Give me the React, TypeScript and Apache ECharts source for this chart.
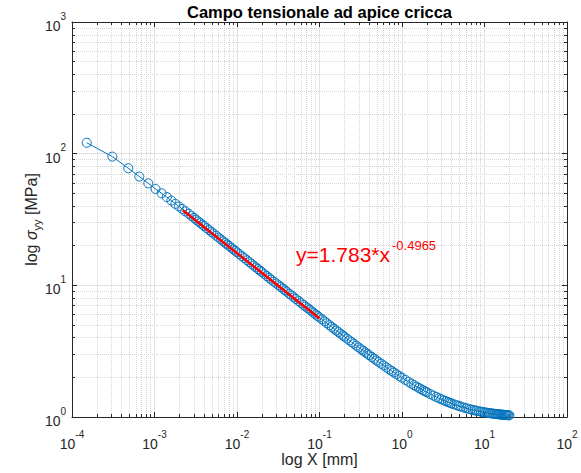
import React, { useEffect, useRef } from 'react';
import * as echarts from 'echarts';

const FONT = "'Liberation Sans', Arial, Helvetica, sans-serif";
const AXIS_COLOR = '#262626';

const titleText = 'Campo tensionale ad apice cricca';
const xAxisName = 'log X [mm]';
const fitLabelMain = 'y=1.783*x';
const fitLabelExp = '-0.4965';

// distance from the crack tip [mm]
const stressX = [
  1.51e-4, 3.08e-4, 4.81e-4, 6.54e-4, 8.41e-4, 1.03e-3, 1.22e-3, 1.41e-3, 1.6e-3, 1.79e-3, 1.98e-3, 2.17e-3, 2.36e-3,
  2.6e-3, 2.8e-3, 3.0e-3, 3.2e-3, 3.4e-3, 3.6e-3, 3.8e-3, 4.0e-3, 4.3e-3, 4.6e-3, 4.9e-3, 5.2e-3, 5.6e-3, 6.0e-3,
  6.4e-3, 6.8e-3, 7.2e-3, 7.6e-3, 8.0e-3, 8.5e-3, 9.0e-3, 9.5e-3,
  0.01, 0.0107, 0.0115, 0.0123, 0.0132, 0.0141, 0.015, 0.016, 0.017, 0.018, 0.019, 0.02, 0.0215, 0.023, 0.0245,
  0.026, 0.028, 0.03, 0.032, 0.034, 0.036, 0.038, 0.04, 0.043, 0.046, 0.049, 0.052, 0.056, 0.06, 0.064, 0.068,
  0.072, 0.076, 0.08, 0.085, 0.09, 0.095,
  0.1, 0.107, 0.115, 0.123, 0.132, 0.141, 0.15, 0.16, 0.17, 0.18, 0.19, 0.2, 0.215, 0.23, 0.245, 0.26, 0.28, 0.3,
  0.32, 0.34, 0.36, 0.38, 0.4, 0.43, 0.46, 0.49, 0.52, 0.56, 0.6, 0.65, 0.7, 0.75, 0.8, 0.86, 0.93,
  1.0, 1.1, 1.2, 1.3, 1.4, 1.5, 1.6, 1.7, 1.8, 1.9, 2.0, 2.2, 2.4, 2.6, 2.8, 3.0, 3.2, 3.4, 3.6, 3.8, 4.0,
  4.3, 4.6, 4.9, 5.2, 5.6, 6.0, 6.4, 6.8, 7.2, 7.6, 8.0, 8.5, 9.0, 9.5,
  10, 10.5, 11, 11.5, 12, 12.5, 13, 13.5, 14, 14.5, 15, 15.5, 16, 16.5, 17, 17.5, 18, 18.5, 19, 19.5, 20,
];

// sigma_yy [MPa]
const stressY = [
  121, 95, 77.5, 67, 59.5, 54, 50, 46.8, 44, 41.6, 39.7, 38.0, 36.5,
  34.97, 33.69, 32.55, 31.52, 30.57, 29.71, 28.92, 28.19, 27.19, 26.29, 25.47, 24.72, 23.83, 23.01,
  22.29, 21.62, 21.01, 20.45, 19.94, 19.34, 18.79, 18.29,
  17.83, 17.24, 16.63, 16.08, 15.52, 15.02, 14.56, 14.1, 13.68, 13.29, 12.94, 12.61, 12.16, 11.76, 11.39,
  11.06, 10.66, 10.33, 10.0, 9.71, 9.44, 9.19, 8.96, 8.64, 8.36, 8.1, 7.87, 7.59, 7.33, 7.1, 6.89,
  6.7, 6.53, 6.36, 6.18, 6.01, 5.85,
  5.705, 5.52, 5.33, 5.158, 4.984, 4.828, 4.685, 4.542, 4.411, 4.292, 4.182, 4.081, 3.943, 3.818, 3.706, 3.604, 3.48, 3.37,
  3.27, 3.18, 3.097, 3.021, 2.951, 2.855, 2.77, 2.692, 2.622, 2.538, 2.462, 2.378, 2.303, 2.237, 2.177, 2.113, 2.046,
  1.987, 1.913, 1.85, 1.794, 1.745, 1.702, 1.663, 1.628, 1.596, 1.567, 1.541, 1.494, 1.454, 1.42, 1.39, 1.363, 1.339, 1.318, 1.299, 1.282, 1.267,
  1.246, 1.228, 1.212, 1.198, 1.181, 1.166, 1.1535, 1.1423, 1.1323, 1.1233, 1.1153, 1.1065, 1.0986, 1.0916,
  1.0854, 1.0798, 1.0747, 1.0702, 1.066, 1.0622, 1.0587, 1.0556, 1.0527, 1.05, 1.0475, 1.0452, 1.0431, 1.0411, 1.0392, 1.0375, 1.0359, 1.0344, 1.033, 1.0317, 1.0304,
];

// power-law fit line endpoints
const fitX = [2.2e-3, 0.1];
const fitY = [37.2, 5.594];

const xMin = 1e-4;
const xMax = 1e2;
const yMin = 1;
const yMax = 1e3;
const xMinorTicks = [
  2e-4, 3e-4, 4e-4, 5e-4, 6e-4, 7e-4, 8e-4, 9e-4,
  2e-3, 3e-3, 4e-3, 5e-3, 6e-3, 7e-3, 8e-3, 9e-3,
  0.02, 0.03, 0.04, 0.05, 0.06, 0.07, 0.08, 0.09,
  0.2, 0.3, 0.4, 0.5, 0.6, 0.7, 0.8, 0.9,
  2, 3, 4, 5, 6, 7, 8, 9,
  20, 30, 40, 50, 60, 70, 80, 90,
];
const yMinorTicks = [
  2, 3, 4, 5, 6, 7, 8, 9,
  20, 30, 40, 50, 60, 70, 80, 90,
  200, 300, 400, 500, 600, 700, 800, 900,
];

const expLabel = (v: number) => `{b|10}{s|${Math.round(Math.log10(v))}}`;

const labelRich = {
  b: { fontSize: 14, fontFamily: FONT, color: AXIS_COLOR, lineHeight: 22, verticalAlign: 'bottom' },
  s: { fontSize: 10, fontFamily: FONT, color: AXIS_COLOR, lineHeight: 11, verticalAlign: 'top' },
};

const MAJOR_GRID = '#e1e1e1';
const MINOR_GRID = '#d6d6d6';

function majorX(position: 'top' | 'bottom', withLabels: boolean) {
  return {
    type: 'log',
    logBase: 10,
    min: xMin,
    max: xMax,
    interval: 1,
    position,
    gridIndex: 0,
    axisLine: { show: true, lineStyle: { color: AXIS_COLOR, width: 1 } },
    axisTick: { show: true, inside: true, length: 5, lineStyle: { color: AXIS_COLOR } },
    axisLabel: withLabels
      ? { show: true, margin: 12, formatter: expLabel, rich: labelRich }
      : { show: false },
    splitLine: withLabels
      ? { show: true, lineStyle: { color: MAJOR_GRID, width: 1, type: 'solid' } }
      : { show: false },
    minorTick: { show: false },
    minorSplitLine: { show: false },
    name: withLabels ? xAxisName : '',
    nameLocation: 'middle',
    nameGap: 34,
    nameMoveOverlap: false,
    nameTextStyle: { fontSize: 16, fontFamily: FONT, color: AXIS_COLOR },
  };
}

function minorX(position: 'top' | 'bottom', withGrid: boolean) {
  return {
    type: 'log',
    logBase: 10,
    min: xMin,
    max: xMax,
    position,
    gridIndex: 0,
    axisLine: { show: false },
    axisTick: { show: true, inside: true, length: 3, customValues: xMinorTicks, lineStyle: { color: AXIS_COLOR } },
    axisLabel: { show: false },
    splitLine: withGrid
      ? { show: true, lineStyle: { color: MINOR_GRID, width: 1, type: 'dotted' } }
      : { show: false },
  };
}

function majorY(position: 'left' | 'right', withLabels: boolean) {
  return {
    type: 'log',
    logBase: 10,
    min: yMin,
    max: yMax,
    interval: 1,
    position,
    gridIndex: 0,
    axisLine: { show: true, lineStyle: { color: AXIS_COLOR, width: 1 } },
    axisTick: { show: true, inside: true, length: 5, lineStyle: { color: AXIS_COLOR } },
    axisLabel: withLabels
      ? { show: true, margin: 6, formatter: expLabel, rich: labelRich }
      : { show: false },
    splitLine: withLabels
      ? { show: true, lineStyle: { color: MAJOR_GRID, width: 1, type: 'solid' } }
      : { show: false },
    name: withLabels ? '{n|log }{g|σ}{sub|yy}{n| [MPa]}' : '',
    nameLocation: 'middle',
    nameGap: 30,
    nameRotate: 90,
    nameMoveOverlap: false,
    nameTextStyle: {
      rich: {
        n: { fontSize: 16, fontFamily: FONT, color: AXIS_COLOR, lineHeight: 22, verticalAlign: 'middle' },
        g: { fontSize: 16, fontFamily: FONT, fontStyle: 'italic', color: AXIS_COLOR, lineHeight: 22, verticalAlign: 'middle' },
        sub: { fontSize: 11, fontFamily: FONT, color: AXIS_COLOR, lineHeight: 11, verticalAlign: 'bottom' },
      },
    },
  };
}

function minorY(position: 'left' | 'right', withGrid: boolean) {
  return {
    type: 'log',
    logBase: 10,
    min: yMin,
    max: yMax,
    position,
    gridIndex: 0,
    axisLine: { show: false },
    axisTick: { show: true, inside: true, length: 3, customValues: yMinorTicks, lineStyle: { color: AXIS_COLOR } },
    axisLabel: { show: false },
    splitLine: withGrid
      ? { show: true, lineStyle: { color: MINOR_GRID, width: 1, type: 'dotted' } }
      : { show: false },
  };
}

export default function App() {
  const ref = useRef<HTMLDivElement>(null);

  useEffect(() => {
    if (!ref.current) return;
    const chart = echarts.init(ref.current, undefined, { renderer: 'svg' });
    const stressData = stressX.map((x, i) => [x, stressY[i]]);
    const fitData = fitX.map((x, i) => [x, fitY[i]]);

    chart.setOption({
      animation: false,
      backgroundColor: '#ffffff',
      grid: { left: 72, right: 14, top: 22, bottom: 56, containLabel: false },
      xAxis: [majorX('bottom', true), minorX('bottom', true), majorX('top', false), minorX('top', false)],
      yAxis: [majorY('left', true), minorY('left', true), majorY('right', false), minorY('right', false)],
      series: [
        {
          type: 'line',
          xAxisIndex: 0,
          yAxisIndex: 0,
          data: stressData,
          symbol: 'circle',
          symbolSize: 9,
          showAllSymbol: true,
          itemStyle: { color: 'rgba(0,0,0,0)', borderColor: '#0072BD', borderWidth: 1 },
          lineStyle: { color: '#0072BD', width: 1 },
          emphasis: { disabled: true },
          z: 3,
        },
        {
          type: 'line',
          xAxisIndex: 0,
          yAxisIndex: 0,
          data: fitData,
          symbol: 'none',
          lineStyle: { color: '#ff0000', width: 2.5 },
          emphasis: { disabled: true },
          z: 4,
        },
      ],
      graphic: [
        {
          type: 'text',
          x: 319.5,
          y: 12,
          style: {
            text: titleText,
            fontSize: 16.5,
            fontWeight: 'bold',
            fontFamily: FONT,
            fill: '#000000',
            align: 'center',
            verticalAlign: 'middle',
          },
        },
        {
          type: 'text',
          x: 296,
          y: 254,
          z: 10,
          style: {
            text: fitLabelMain,
            fontSize: 21,
            fontFamily: FONT,
            fill: '#ff0000',
            align: 'left',
            verticalAlign: 'middle',
          },
        },
        {
          type: 'text',
          x: 392,
          y: 245,
          z: 10,
          style: {
            text: fitLabelExp,
            fontSize: 13,
            fontFamily: FONT,
            fill: '#ff0000',
            align: 'left',
            verticalAlign: 'middle',
          },
        },
      ],
    });

    return () => chart.dispose();
  }, []);

  return (
    <div
      ref={ref}
      style={{ position: 'fixed', left: 0, top: 0, width: 581, height: 473, background: '#fff' }}
    />
  );
}
